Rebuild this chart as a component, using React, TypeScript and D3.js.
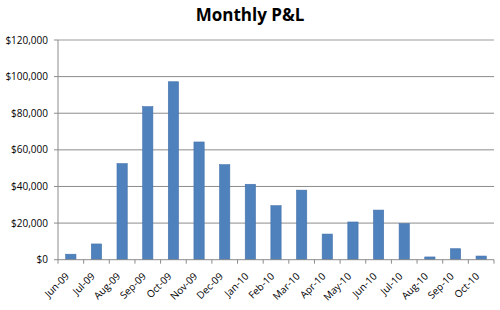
import React from "react";
import * as d3 from "d3";

const months = ["Jun-09","Jul-09","Aug-09","Sep-09","Oct-09","Nov-09","Dec-09","Jan-10","Feb-10","Mar-10","Apr-10","May-10","Jun-10","Jul-10","Aug-10","Sep-10","Oct-10"];
const pnl = [3000,8600,52500,83600,97200,64300,51900,41200,29500,38000,14000,20600,27100,19700,1500,6000,2000];
const yTicks = [0,20000,40000,60000,80000,100000,120000];
const title = "Monthly P&L";

const W = 500, H = 310;
const left = 58, right = 494, top = 40, bottom = 259.7;
const font = "'Open Sans', sans-serif";

export default function App() {
  const x = d3.scaleBand<string>().domain(months).range([left, right]).paddingInner(0.6).paddingOuter(0.3);
  const xb = d3.scaleBand<string>().domain(months).range([left, right]);
  const y = d3.scaleLinear().domain([0, 120000]).range([bottom, top]);
  const fmt = (v: number) => "$" + d3.format(",")(v);
  return (
    <svg width={W} height={H} style={{ position: "absolute", left: 0, top: 0, background: "#fff" }}>
      <text x={250} y={21} textAnchor="middle" fontFamily={font} fontWeight="bold" fontSize={17} fill="#000">{title}</text>
      {yTicks.map((t) => (
        <g key={t}>
          {t > 0 && (
            <line x1={left} x2={right} y1={y(t)} y2={y(t)} stroke={t === 120000 ? "#bdbdbd" : "#8c8c8c"} strokeWidth={t === 120000 ? 1.5 : 1} />
          )}
          <line x1={left - 4} x2={left} y1={y(t)} y2={y(t)} stroke="#8c8c8c" />
          <text x={48} y={y(t)} dy="0.35em" textAnchor="end" fontFamily={font} fontSize={10} fill="#000">{fmt(t)}</text>
        </g>
      ))}
      <line x1={left} x2={left} y1={top} y2={bottom} stroke="#8c8c8c" />
      {pnl.map((v, i) => (
        <rect key={months[i]} x={x(months[i])} y={y(v)} width={x.bandwidth()} height={bottom - y(v)} fill="#4f81bd" stroke="#4573ac" strokeWidth={0.6} />
      ))}
      <line x1={left} x2={right} y1={bottom} y2={bottom} stroke="#8c8c8c" />
      {months.map((m) => (
        <line key={"t" + m} x1={xb(m)!} x2={xb(m)!} y1={bottom} y2={bottom + 4} stroke="#8c8c8c" />
      ))}
      <line x1={right} x2={right} y1={bottom} y2={bottom + 4} stroke="#8c8c8c" />
      {months.map((m) => {
        const cx = xb(m)! + xb.bandwidth() / 2 - 1;
        const cy = 277;
        return (
          <text key={"l" + m} x={cx} y={cy} textAnchor="end" transform={`rotate(-45 ${cx} ${cy})`} fontFamily={font} fontSize={10} fill="#000">{m}</text>
        );
      })}
    </svg>
  );
}
